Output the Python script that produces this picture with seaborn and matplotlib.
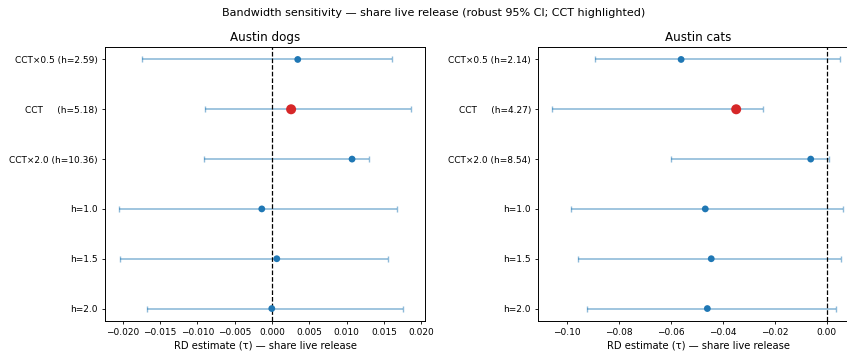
import numpy as np
import pandas as pd
import matplotlib
matplotlib.use("Agg")
import matplotlib.pyplot as plt
import seaborn as sns

# bandwidth rows, top to bottom
specs = ["CCT×0.5", "CCT", "CCT×2.0", "h=1.0", "h=1.5", "h=2.0"]
is_cct = [False, True, False, False, False, False]

dogs_h = [2.59, 5.18, 10.36]
dogs_est = [0.00344, 0.00255, 0.01072, -0.00138, 0.00063, -0.00004]
dogs_lo = [-0.01738, -0.00898, -0.00916, -0.02047, -0.02033, -0.01676]
dogs_hi = [0.01613, 0.01859, 0.01300, 0.01676, 0.01559, 0.01760]

cats_h = [2.14, 4.27, 8.54]
cats_est = [-0.0561, -0.0349, -0.0062, -0.0468, -0.0445, -0.0460]
cats_lo = [-0.0892, -0.1057, -0.0600, -0.0985, -0.0957, -0.0924]
cats_hi = [0.0049, -0.0244, 0.0009, 0.0064, 0.0055, 0.0036]


def make_labels(hs):
    labs = []
    for i, s in enumerate(specs):
        if i < len(hs):
            labs.append(f"{s:<8}(h={hs[i]:.2f})")
        else:
            labs.append(s)
    return labs


def draw_panel(ax, title, est, lo, hi, hs):
    df = pd.DataFrame({"spec": specs, "est": est, "lo": lo, "hi": hi, "cct": is_cct})
    df["y"] = np.arange(len(df))
    err = np.vstack([df["est"] - df["lo"], df["hi"] - df["est"]])
    ax.errorbar(df["est"], df["y"], xerr=err, fmt="none", ecolor="#1f77b4",
                alpha=0.5, elinewidth=1.2, capsize=2.3, capthick=1.0, zorder=1)
    sns.scatterplot(data=df[~df["cct"]], x="est", y="y", ax=ax, color="#1f77b4",
                    s=24, edgecolor="none", zorder=3, legend=False)
    sns.scatterplot(data=df[df["cct"]], x="est", y="y", ax=ax, color="#d62728",
                    s=52, edgecolor="none", zorder=4, legend=False)
    ax.axvline(0, color="black", ls="--", lw=0.9, zorder=2)
    ax.set_yticks(df["y"])
    ax.set_yticklabels(make_labels(hs))
    ax.set_ylim(len(df) - 0.75, -0.25)
    ax.set_ylabel("")
    ax.set_xlabel("RD estimate (τ) — share live release", fontsize=7.2, labelpad=2.5)
    ax.set_title(title, fontsize=8.6, pad=4)
    ax.tick_params(labelsize=6.5, length=2.5, pad=2.5, width=0.6)
    for sp in ax.spines.values():
        sp.set_linewidth(0.7)


fig = plt.figure(figsize=(8.47, 3.57), dpi=100)
ax1 = fig.add_axes([105 / 847, 1 - 321 / 357, 320 / 847, 274 / 357])
ax2 = fig.add_axes([538 / 847, 1 - 321 / 357, 320 / 847, 274 / 357])

draw_panel(ax1, "Austin dogs", dogs_est, dogs_lo, dogs_hi, dogs_h)
draw_panel(ax2, "Austin cats", cats_est, cats_lo, cats_hi, cats_h)
ax1.set_xlim(-0.0224, 0.0205)
ax2.set_xlim(-0.1112, 0.012)

fig.suptitle("Bandwidth sensitivity — share live release (robust 95% CI; CCT highlighted)",
             fontsize=8.0, x=433.5 / 847, y=0.977)
fig.savefig("out.png", dpi=100)
